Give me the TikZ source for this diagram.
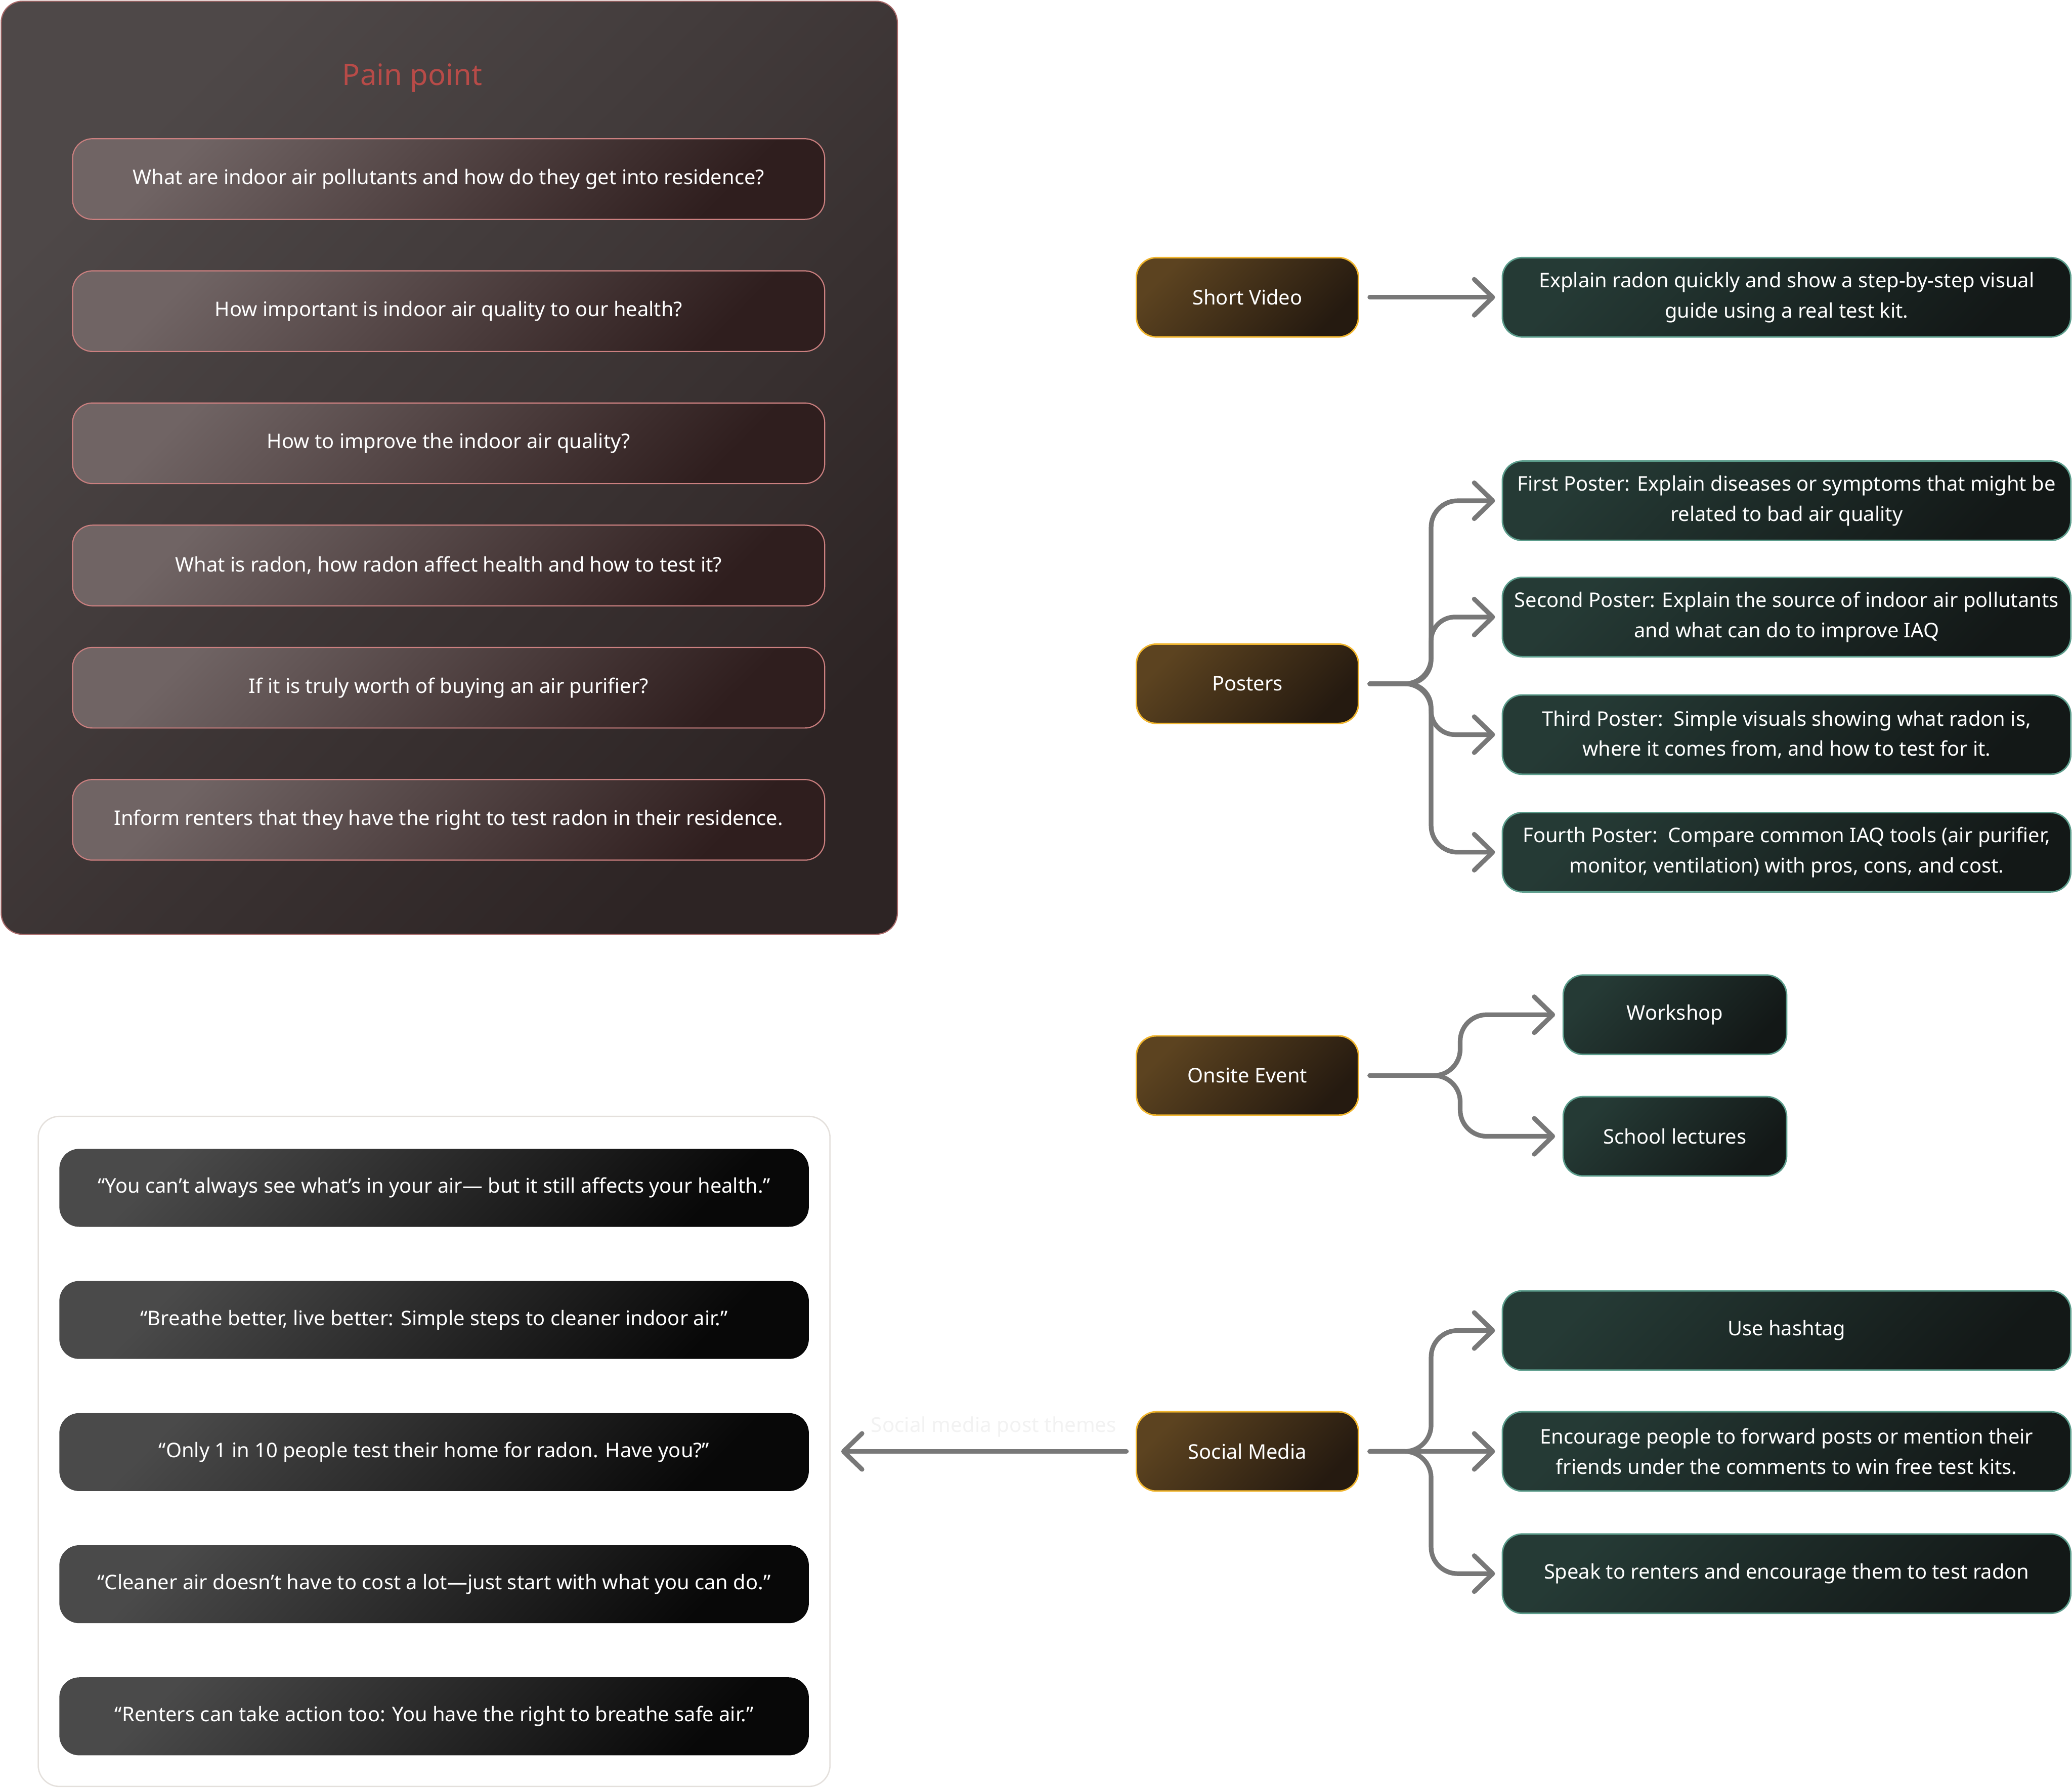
\documentclass[tikz,border=0pt]{standalone}
\usepackage{fontspec}
\setmainfont{Noto Sans}
\usepackage{xcolor}
\usetikzlibrary{arrows.meta, positioning}
\definecolor{painhi}{HTML}{4E4848}
\definecolor{painlo}{HTML}{2D2424}
\definecolor{painedge}{HTML}{A86868}
\definecolor{qhi}{HTML}{706464}
\definecolor{qlo}{HTML}{2F1E1E}
\definecolor{qedge}{HTML}{CC8080}
\definecolor{ptitle}{HTML}{B84B48}
\definecolor{orhi}{HTML}{5C4320}
\definecolor{orlo}{HTML}{251A10}
\definecolor{oredge}{HTML}{F0B52E}
\definecolor{grhi}{HTML}{253A35}
\definecolor{grlo}{HTML}{131817}
\definecolor{gredge}{HTML}{5B9C8B}
\definecolor{quhi}{HTML}{4A4A4A}
\definecolor{qulo}{HTML}{080808}
\definecolor{paneledge}{HTML}{E4E0DC}
\definecolor{arrgray}{HTML}{787878}

\begin{document}
\begin{tikzpicture}[
  x=0.025cm, y=-0.025cm,
  every node/.style={font=\fontsize{10.85}{16.3}\selectfont, text=white},
  pain/.style={rectangle, draw=qedge, line width=0.6pt, rounded corners=0.375cm,
               top color=qhi, bottom color=qlo, shading angle=45,
               minimum width=14.225cm, minimum height=1.525cm, align=center},
  chan/.style={rectangle, draw=oredge, line width=0.8pt, rounded corners=0.375cm,
               top color=orhi, bottom color=orlo, shading angle=45,
               minimum width=4.2cm, minimum height=1.5cm, align=center},
  idea/.style={rectangle, draw=gredge, line width=0.8pt, rounded corners=0.375cm,
               top color=grhi, bottom color=grlo, shading angle=45,
               minimum width=10.75cm, minimum height=1.5cm, align=center},
  quote/.style={rectangle, rounded corners=0.375cm,
                top color=quhi, bottom color=qulo, shading angle=45,
                minimum width=14.175cm, minimum height=1.475cm, align=center},
  arr/.style={-{Straight Barb[length=0.35cm, width=0.68cm, round]},
              draw=arrgray, line width=2.5pt, line cap=round, line join=round},
]
\useasboundingbox[fill=white] (0,0) rectangle (1568,1353);

% pain points
\node[rectangle, draw=painedge, line width=0.6pt, rounded corners=0.4cm,
      top color=painhi, bottom color=painlo, shading angle=45,
      minimum width=16.95cm, minimum height=17.65cm] (PP) at (340,354) {};
\node[text=ptitle, font=\fontsize{15.8}{18}\selectfont] (PT) at (312,59) {Pain point};
\node[pain] (Q1) at (339.5,135.5) {What are indoor air pollutants and how do they get into residence?};
\node[pain] (Q2) at (339.5,235.5) {How important is indoor air quality to our health?};
\node[pain] (Q3) at (339.5,335.5) {How to improve the indoor air quality?};
\node[pain] (Q4) at (339.5,428) {What is radon, how radon affect health and how to test it?};
\node[pain] (Q5) at (339.5,520.5) {If it is truly worth of buying an air purifier?};
\node[pain] (Q6) at (339.5,620.5) {Inform renters that they have the right to test radon in their residence.};

% channels
\node[chan] (SV) at (944,225) {Short Video};
\node[chan] (PO) at (944,517.5) {Posters};
\node[chan] (OE) at (944,814) {Onsite Event};
\node[chan] (SM) at (944,1098.5) {Social Media};

% short video
\node[idea] (EX) at (1352,225) {Explain radon quickly and show a step-by-step visual\\guide using a real test kit.};

% posters
\node[idea] (P1) at (1352,379) {First Poster: Explain diseases or symptoms that might be\\related to bad air quality};
\node[idea] (P2) at (1352,467) {Second Poster: Explain the source of indoor air pollutants\\and what can do to improve IAQ};
\node[idea] (P3) at (1352,556) {Third Poster:\ \ Simple visuals showing what radon is,\\where it comes from, and how to test for it.};
\node[idea] (P4) at (1352,645) {Fourth Poster:\ \ Compare common IAQ tools (air purifier,\\monitor, ventilation) with pros, cons, and cost.};

% onsite event
\node[idea, minimum width=4.225cm] (WS) at (1267.5,768) {Workshop};
\node[idea, minimum width=4.225cm] (SL) at (1267.5,860) {School lectures};

% social media
\node[idea] (UH) at (1352,1007) {Use hashtag};
\node[idea] (EN) at (1352,1098.5) {Encourage people to forward posts or mention their\\friends under the comments to win free test kits.};
\node[idea] (SP) at (1352,1191) {Speak to renters and encourage them to test radon};

% post themes
\node[rectangle, draw=paneledge, line width=0.7pt, rounded corners=0.4cm, fill=white,
      minimum width=14.975cm, minimum height=12.675cm] (QP) at (328.5,1098.5) {};
\node[quote] (T1) at (328.5,899) {“You can’t always see what’s in your air— but it still affects your health.”};
\node[quote] (T2) at (328.5,999) {“Breathe better, live better: Simple steps to cleaner indoor air.”};
\node[quote] (T3) at (328.5,1099) {“Only 1 in 10 people test their home for radon. Have you?”};
\node[quote] (T4) at (328.5,1199) {“Cleaner air doesn’t have to cost a lot—just start with what you can do.”};
\node[quote] (T5) at (328.5,1299) {“Renters can take action too: You have the right to breathe safe air.”};
\node[text=black!5, font=\fontsize{11}{12}\selectfont] (TL) at (752,1080) {Social media post themes};

% junctions
\coordinate (PJ) at (1083,517.5);
\coordinate (OJ) at (1105,814);
\coordinate (SJ) at (1083,1098.5);

% connectors
\draw[arr, shorten <=0.2cm, shorten >=0.125cm] (SV.east) -- (EX.west);
\draw[arr, shorten <=0.2cm, shorten >=0.125cm, rounded corners=0.5cm] (PO.east) -- (PJ) |- (P1.west);
\draw[arr, shorten <=0.2cm, shorten >=0.125cm, rounded corners=0.45cm] (PO.east) -- (PJ) |- (P2.west);
\draw[arr, shorten <=0.2cm, shorten >=0.125cm, rounded corners=0.45cm] (PO.east) -- (PJ) |- (P3.west);
\draw[arr, shorten <=0.2cm, shorten >=0.125cm, rounded corners=0.5cm] (PO.east) -- (PJ) |- (P4.west);
\draw[arr, shorten <=0.2cm, shorten >=0.14cm, rounded corners=0.5cm] (OE.east) -- (OJ) |- (WS.west);
\draw[arr, shorten <=0.2cm, shorten >=0.14cm, rounded corners=0.5cm] (OE.east) -- (OJ) |- (SL.west);
\draw[arr, shorten <=0.2cm, shorten >=0.125cm, rounded corners=0.5cm] (SM.east) -- (SJ) |- (UH.west);
\draw[arr, shorten <=0.2cm, shorten >=0.125cm] (SM.east) -- (EN.west);
\draw[arr, shorten <=0.2cm, shorten >=0.125cm, rounded corners=0.5cm] (SM.east) -- (SJ) |- (SP.west);
\draw[arr, shorten <=0.175cm, shorten >=0.2cm] (SM.west) -- (QP.east);
\end{tikzpicture}
\end{document}
